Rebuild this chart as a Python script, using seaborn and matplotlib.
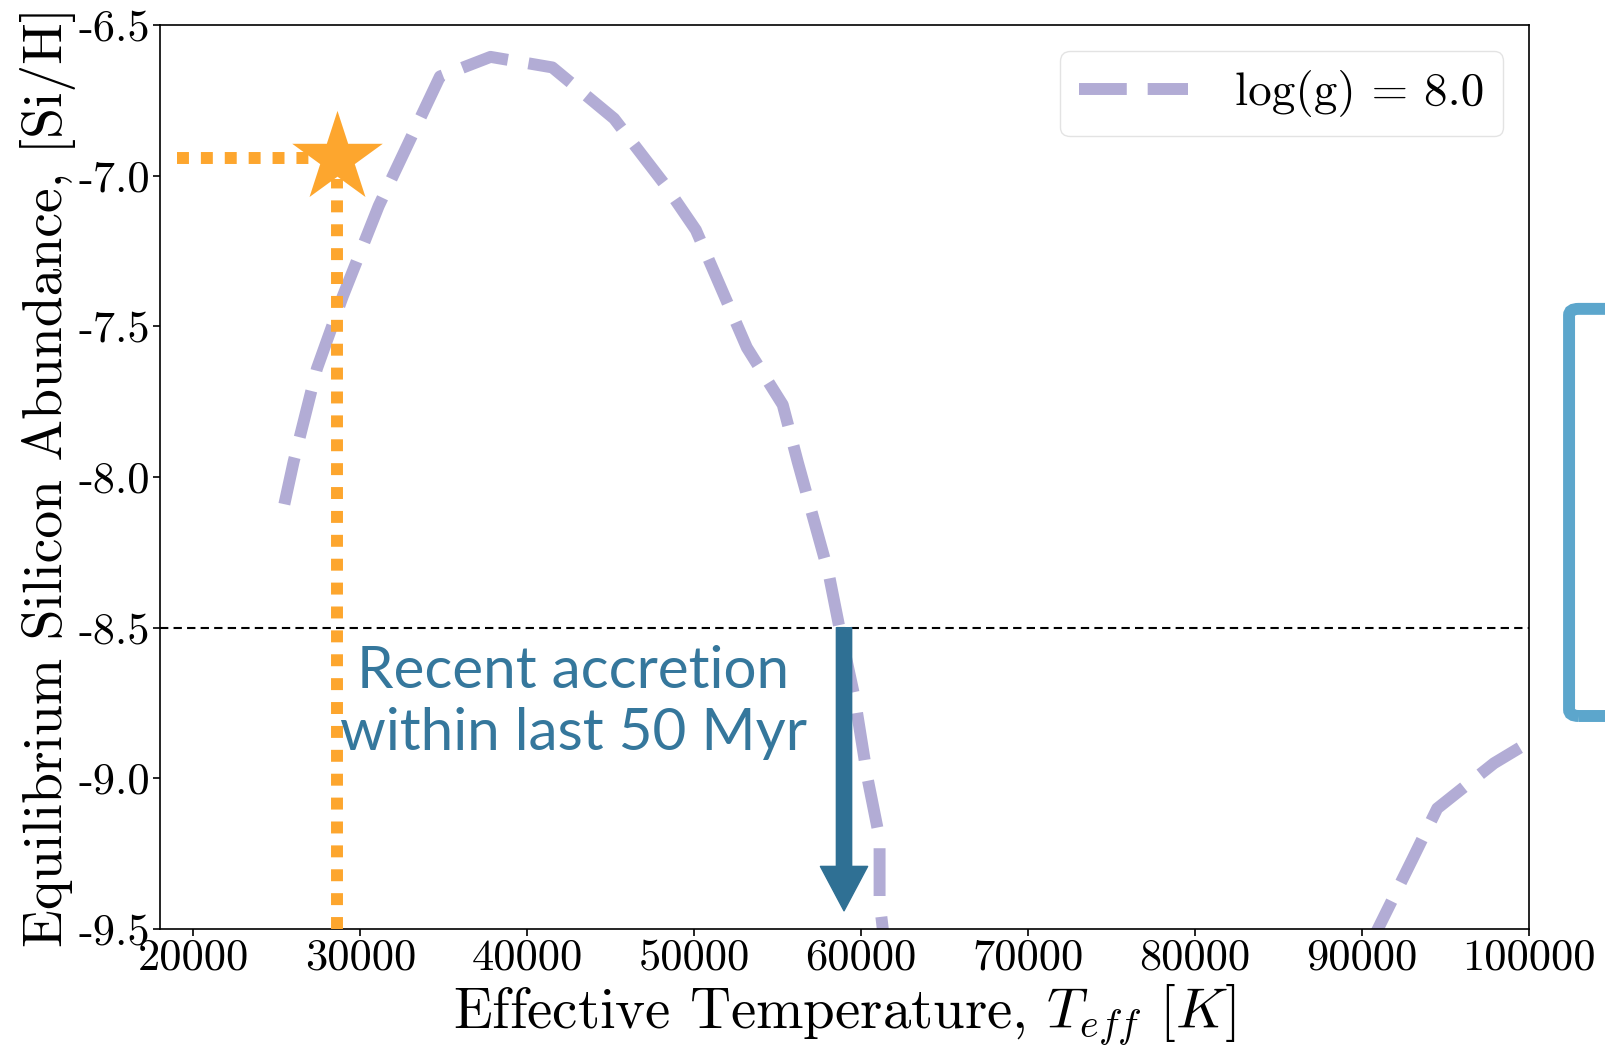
import numpy as np
import pandas as pd
import matplotlib
matplotlib.use("Agg")
import matplotlib.pyplot as plt
import seaborn as sns
from matplotlib.patches import FancyBboxPatch
from matplotlib.ticker import FuncFormatter, FixedLocator

# ---- data ----
teff_a = [25450, 26000, 27400, 28950, 31100, 34770, 37800, 41500, 45200, 48250,
          50100, 53150, 55300, 56200, 58050, 58660, 59600, 60380, 61100, 61100, 61400]
si_a = [-8.09, -7.95, -7.64, -7.40, -7.10, -6.67, -6.605, -6.64, -6.81, -7.03,
        -7.18, -7.57, -7.76, -7.95, -8.32, -8.49, -8.73, -9.00, -9.20, -9.41, -9.55]
teff_b = [90500, 93000, 94500, 97900, 100000]
si_b = [-9.55, -9.27, -9.10, -8.95, -8.88]

star_teff = 28600
star_si = -6.94
threshold = -8.5
arrow_teff = 58970
arrow_end = -9.44

x_ticks = [20000, 30000, 40000, 50000, 60000, 70000, 80000, 90000, 100000]
y_ticks = [-6.5, -7.0, -7.5, -8.0, -8.5, -9.0, -9.5]
legend_label = "log(g) = 8.0"
note = "Recent accretion\nwithin last 50 Myr"

# ---- style ----
sns.set_style("ticks")
plt.rcParams["font.family"] = ["serif"]
plt.rcParams["font.serif"] = ["cmr10", "DejaVu Serif"]
plt.rcParams["mathtext.fontset"] = "cm"
plt.rcParams["axes.unicode_minus"] = False
plt.rcParams["axes.edgecolor"] = "black"
plt.rcParams["axes.linewidth"] = 1.2
plt.rcParams["text.color"] = "black"
plt.rcParams["axes.labelcolor"] = "black"
plt.rcParams["xtick.color"] = "black"
plt.rcParams["ytick.color"] = "black"

purple = "#B2ACD5"
orange = "#FDA62E"
arrow_blue = "#2F7094"
text_blue = "#35779C"
box_blue = "#5CA6CC"

fig = plt.figure(figsize=(16.06, 10.52), dpi=100)
ax = fig.add_axes([0.0996, 0.117, 0.8525, 0.859])

sns.lineplot(x=teff_a, y=si_a, ax=ax, color=purple, linewidth=8.6, estimator=None,
             sort=False, linestyle=(0, (4, 1.75)), label=legend_label, zorder=2)
sns.lineplot(x=teff_b, y=si_b, ax=ax, color=purple, linewidth=8.6, estimator=None,
             sort=False, linestyle=(0, (4, 1.75)), zorder=2)

ax.axhline(threshold, color="black", linewidth=1.5, linestyle=(0, (4, 2.5)), zorder=1)

ax.hlines(star_si, 19000, star_teff - 700, color=orange, linewidth=8.6,
          linestyles=[(0, (1, 1))], capstyle="butt", zorder=3)
ax.vlines(star_teff, -9.5, star_si - 0.07, color=orange, linewidth=8.6,
          linestyles=[(0, (1, 1))], capstyle="butt", zorder=3)
sns.scatterplot(x=[star_teff], y=[star_si], ax=ax, marker="*", s=4700, color=orange,
                linewidth=0, zorder=5, legend=False)

ax.annotate("", xy=(arrow_teff, arrow_end), xytext=(arrow_teff, threshold),
            xycoords="data", textcoords="data",
            arrowprops=dict(width=11, headwidth=34, headlength=32, color=arrow_blue,
                            shrink=0), zorder=6)

fig.text(0.357, 0.332, note, ha="center", va="center",
         family=["Lato", "DejaVu Sans"], fontsize=42, fontweight="normal",
         color=text_blue, linespacing=1.2, multialignment="center")

ax.set_xlim(18000, 100000)
ax.set_ylim(-9.5, -6.5)
ax.xaxis.set_major_locator(FixedLocator(x_ticks))
ax.yaxis.set_major_locator(FixedLocator(y_ticks))
ax.xaxis.set_major_formatter(FuncFormatter(lambda v, p: f"{int(v)}"))
ax.yaxis.set_major_formatter(FuncFormatter(lambda v, p: f"{v:.1f}"))
ax.tick_params(axis="both", labelsize=32, length=5, width=1.2, pad=2, direction="out",
               colors="black")
for s in ax.spines.values():
    s.set_visible(True)

ax.set_xlabel(r"Effective Temperature, $T_{eff}$ $[K]$", fontsize=41, labelpad=3)
ax.set_ylabel("Equilibrium Silicon Abundance, [Si/H]", fontsize=40, labelpad=2)

leg = ax.legend(loc="upper right", fontsize=34, handlelength=2.3, frameon=True,
                fancybox=True, borderpad=0.4, borderaxespad=0.55, handletextpad=1.0)
leg.get_frame().set_edgecolor("#DDDDDD")

box = FancyBboxPatch((0.977, 0.3194), 0.2, 0.387, transform=fig.transFigure,
                     boxstyle="round,pad=0,rounding_size=0.006", facecolor="none",
                     edgecolor=box_blue, linewidth=8.6, clip_on=False)
fig.patches.append(box)

fig.savefig("out.png", dpi=100)
